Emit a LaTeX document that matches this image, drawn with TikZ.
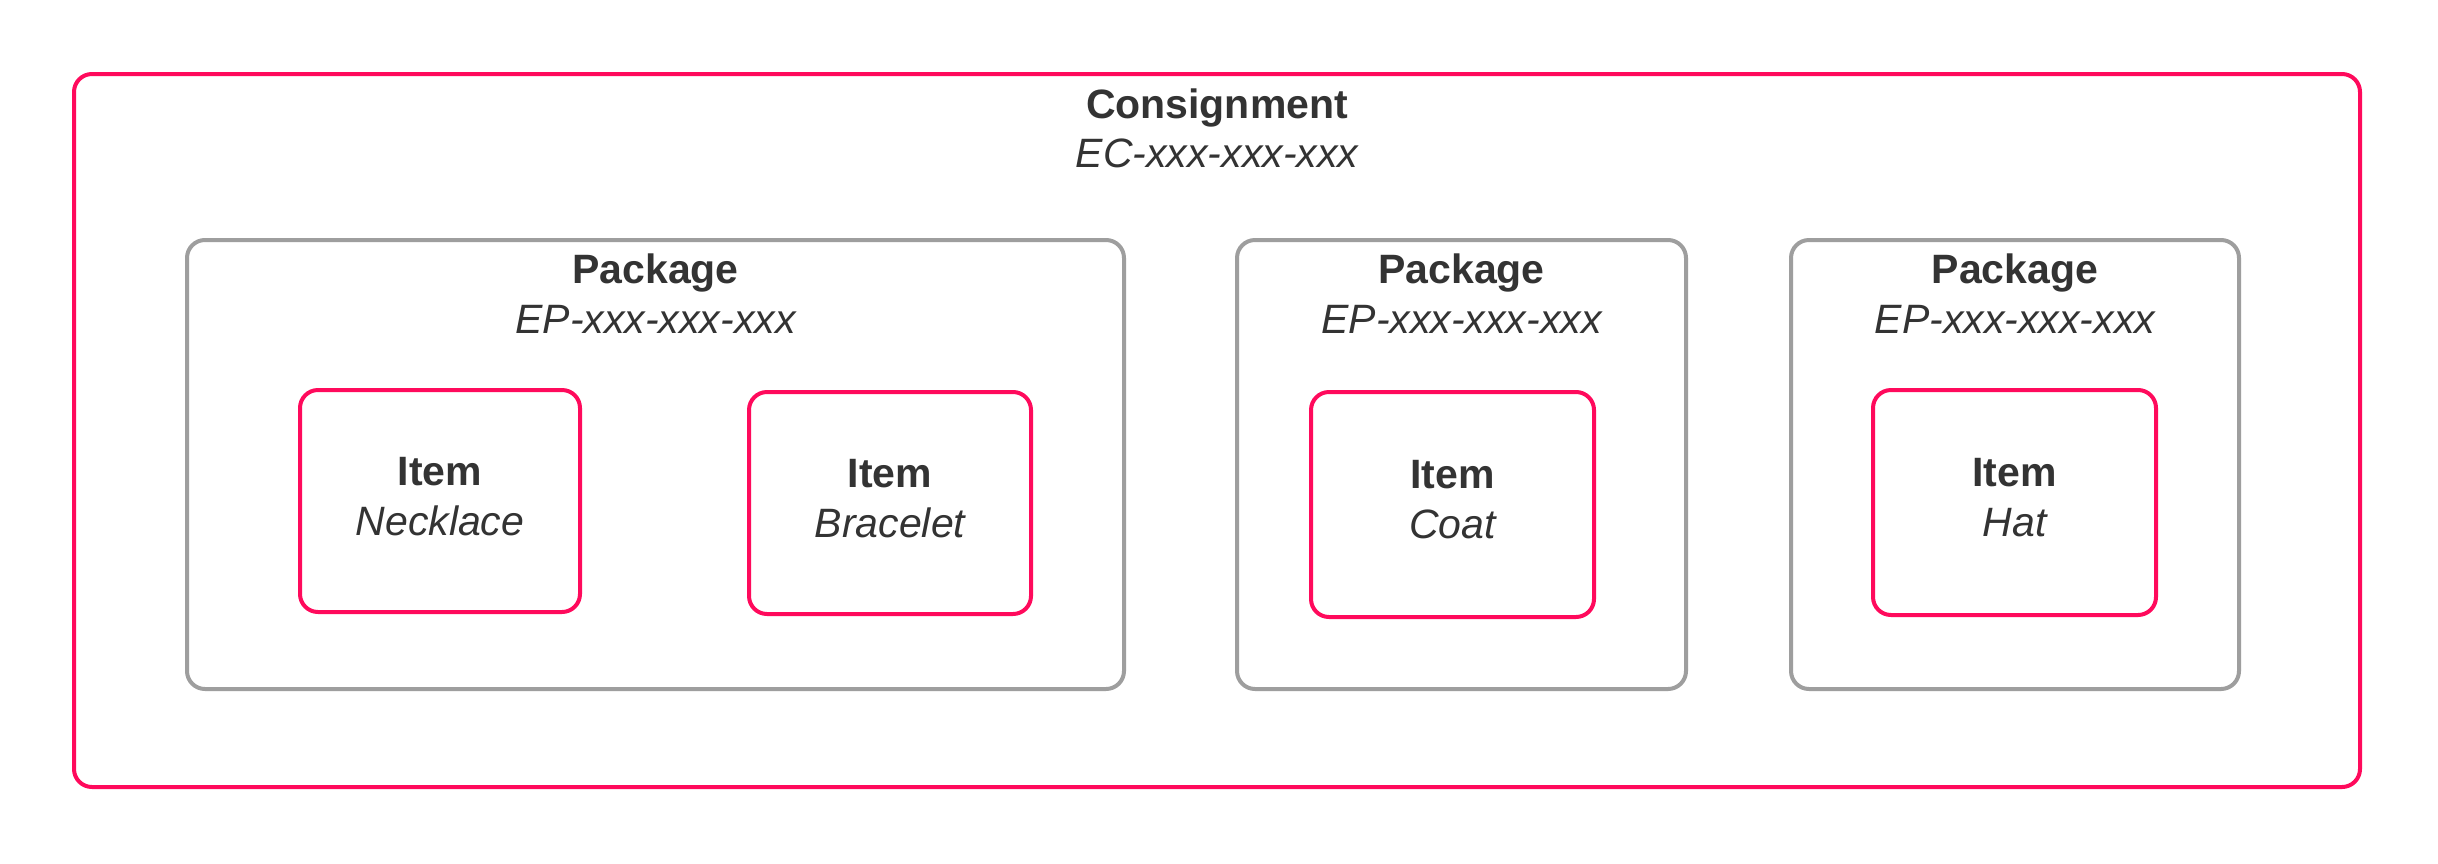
\documentclass[tikz,border=0pt]{standalone}
\usepackage{fontspec}
\setmainfont{Liberation Sans}
\definecolor{pinkc}{HTML}{FF0A5C}
\definecolor{grayc}{HTML}{9E9E9E}
\definecolor{textc}{HTML}{333333}
\begin{document}
\begin{tikzpicture}[x=1pt,y=-1pt,
  pinkbox/.style={draw=pinkc,line width=4pt,rounded corners=18pt,inner sep=0pt},
  graybox/.style={draw=grayc,line width=4pt,rounded corners=18pt,inner sep=0pt},
  ttl/.style={anchor=base,inner sep=0pt,text=textc,font=\fontsize{41}{49}\selectfont\bfseries},
  sub/.style={anchor=base,inner sep=0pt,text=textc,font=\fontsize{41}{49}\selectfont\itshape}]
\useasboundingbox (0,0) rectangle (2438,863);
\fill[white] (0,0) rectangle (2438,863);
% consignment
\node[pinkbox,minimum width=2286pt,minimum height=713pt] (cons) at (1217,430.5) {};
\node[ttl] (consT) at (1217,118) {Consignment};
\node[sub] (consS) at (1217,167) {EC-xxx-xxx-xxx};
% packages
\node[graybox,minimum width=937pt,minimum height=449pt] (p1) at (655.5,464.5) {};
\node[graybox,minimum width=449pt,minimum height=449pt] (p2) at (1461.5,464.5) {};
\node[graybox,minimum width=448pt,minimum height=449pt] (p3) at (2015,464.5) {};
\node[ttl] (p1T) at (655.5,283.5) {Package};
\node[sub] (p1S) at (655.5,333) {EP-xxx-xxx-xxx};
\node[ttl] (p2T) at (1461.5,283.5) {Package};
\node[sub] (p2S) at (1461.5,333) {EP-xxx-xxx-xxx};
\node[ttl] (p3T) at (2015,283.5) {Package};
\node[sub] (p3S) at (2015,333) {EP-xxx-xxx-xxx};
% items
\node[pinkbox,minimum width=280pt,minimum height=222pt] (i1) at (440,501) {};
\node[pinkbox,minimum width=282pt,minimum height=222pt] (i2) at (890,503) {};
\node[pinkbox,minimum width=283pt,minimum height=225pt] (i3) at (1452.5,504.5) {};
\node[pinkbox,minimum width=283pt,minimum height=225pt] (i4) at (2014.5,502.5) {};
\node[ttl] (i1T) at (440,485.5) {Item};
\node[sub] (i1S) at (440,535) {Necklace};
\node[ttl] (i2T) at (890,487) {Item};
\node[sub] (i2S) at (890,537) {Bracelet};
\node[ttl] (i3T) at (1452.5,488) {Item};
\node[sub] (i3S) at (1452.5,538) {Coat};
\node[ttl] (i4T) at (2014.5,486) {Item};
\node[sub] (i4S) at (2014.5,536) {Hat};
\end{tikzpicture}
\end{document}
